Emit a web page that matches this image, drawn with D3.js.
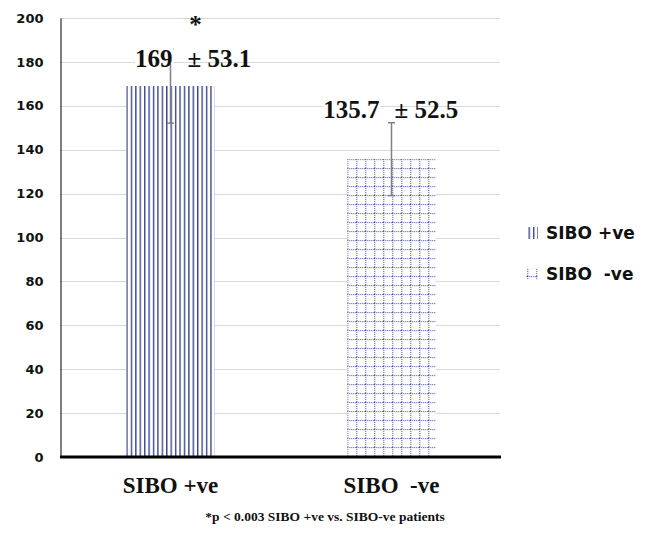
<!DOCTYPE html>
<html>
<head>
<meta charset="utf-8">
<script src="https://cdn.jsdelivr.net/npm/d3@7"></script>
<style>
  html, body { margin: 0; padding: 0; background: #fff; }
  svg { display: block; }
  text { white-space: pre; }
</style>
</head>
<body>
<svg id="chart"></svg>
<script>
const W = 648, H = 536;

// data
const groups = ["SIBO +ve", "SIBO  -ve"];
const means = [169, 135.7];
const sds = [53.1, 52.5];          // printed next to each mean
const errBars = [16.9, 16.6];      // half-length of the drawn error bars
const yTicks = [0, 20, 40, 60, 80, 100, 120, 140, 160, 180, 200];
const legendLabels = ["SIBO +ve", "SIBO  -ve"];
const starText = "*";
const footnote = "*p < 0.003 SIBO +ve vs. SIBO-ve patients";

// label nudges (Excel labels were moved by hand)
const labelDx = [2, -12], labelDy = [-19, -41];

const svg = d3.select("#chart").attr("width", W).attr("height", H);
const defs = svg.append("defs");

const x = d3.scaleBand().domain(groups).range([60, 502])
  .paddingInner(0.6).paddingOuter(0.3);
const y = d3.scaleLinear().domain([0, 200]).range([457, 18]);

const sans = "'DejaVu Sans', sans-serif";
const serif = "'Liberation Serif', 'Times New Roman', serif";

// patterns
const pv = defs.append("pattern").attr("id", "vlines")
  .attr("patternUnits", "userSpaceOnUse")
  .attr("x", x(groups[0])).attr("width", 4.42).attr("height", 10);
pv.append("rect").attr("width", 4.42).attr("height", 10).attr("fill", "#fff");
pv.append("rect").attr("x", 0).attr("width", 1.4).attr("height", 10).attr("fill", "#3b4796");

const pg = defs.append("pattern").attr("id", "grid")
  .attr("patternUnits", "userSpaceOnUse")
  .attr("x", x(groups[1])).attr("y", y(means[1]))
  .attr("width", 9).attr("height", 9);
pg.append("rect").attr("width", 9).attr("height", 9).attr("fill", "#fff");
pg.append("line").attr("x1", 0.5).attr("x2", 0.5).attr("y1", 0).attr("y2", 9)
  .attr("stroke", "#3f4b9e").attr("stroke-width", 1).attr("stroke-dasharray", "1 1");
pg.append("line").attr("x1", 0).attr("x2", 9).attr("y1", 0.5).attr("y2", 0.5)
  .attr("stroke", "#3f4b9e").attr("stroke-width", 1).attr("stroke-dasharray", "1 1");

const fills = ["url(#vlines)", "url(#grid)"];

// gridlines
svg.append("g").selectAll("line").data(yTicks.filter(d => d > 0)).join("line")
  .attr("x1", 60).attr("x2", 500)
  .attr("y1", d => Math.round(y(d)) + 0.5).attr("y2", d => Math.round(y(d)) + 0.5)
  .attr("stroke", "#d9d9d9").attr("stroke-width", 1);

// y axis
const yAx = svg.append("g").attr("transform", "translate(60.5,0)")
  .call(d3.axisLeft(y).tickValues(yTicks).tickSize(0).tickPadding(17));
yAx.select(".domain").attr("stroke", "#000").attr("stroke-width", 1);
yAx.selectAll("text")
  .attr("font-family", sans)
  .attr("font-weight", "bold").attr("font-size", 13).attr("fill", "#111");

// bars
svg.append("g").selectAll("rect").data(groups).join("rect")
  .attr("x", d => x(d)).attr("width", x.bandwidth())
  .attr("y", (d, i) => y(means[i])).attr("height", (d, i) => y(0) - y(means[i]))
  .attr("fill", (d, i) => fills[i]);

// error bars
const eb = svg.append("g").attr("stroke", "#808080").attr("stroke-width", 1.5);
groups.forEach((g, i) => {
  const cx = x(g) + x.bandwidth() / 2;
  eb.append("line").attr("x1", cx).attr("x2", cx)
    .attr("y1", y(means[i] + errBars[i])).attr("y2", y(means[i] - errBars[i]));
  [means[i] + errBars[i], means[i] - errBars[i]].forEach(v => {
    eb.append("line").attr("x1", cx - 3.5).attr("x2", cx + 3.5)
      .attr("y1", y(v)).attr("y2", y(v));
  });
});

// x axis line
svg.append("line").attr("x1", 60).attr("x2", 501)
  .attr("y1", y(0)).attr("y2", y(0))
  .attr("stroke", "#000").attr("stroke-width", 3);

// value labels (mean label box is opaque, as in the original)
groups.forEach((g, i) => {
  const cx = x(g) + x.bandwidth() / 2 + labelDx[i];
  const ly = y(means[i]) + labelDy[i];
  const t = svg.append("text").attr("x", cx).attr("y", ly)
    .attr("text-anchor", "end")
    .attr("font-family", serif).attr("font-weight", "bold").attr("font-size", 25)
    .attr("fill", "#111").text(d3.format(",")(means[i]));
  const bb = t.node().getBBox();
  svg.insert("rect", () => t.node())
    .attr("x", bb.x).attr("y", ly - 21).attr("width", bb.width + 1).attr("height", 18)
    .attr("fill", "#fff");
  svg.append("text").attr("x", cx + 15).attr("y", ly)
    .attr("font-family", serif).attr("font-weight", "bold").attr("font-size", 25)
    .attr("fill", "#111").text("\u00b1 " + sds[i]);
});

// significance star
svg.append("text")
  .attr("x", x(groups[0]) + x.bandwidth() / 2 + 25).attr("y", 33)
  .attr("text-anchor", "middle")
  .attr("font-family", serif).attr("font-weight", "bold").attr("font-size", 25)
  .attr("fill", "#111").text(starText);

// category labels
svg.append("g").selectAll("text").data(groups).join("text")
  .attr("x", d => x(d) + x.bandwidth() / 2).attr("y", 493)
  .attr("text-anchor", "middle")
  .attr("font-family", serif).attr("font-weight", "bold").attr("font-size", 23)
  .attr("fill", "#111").text(d => d);

// legend
const lg = svg.append("g");
legendLabels.forEach((lab, i) => {
  const ly = 239 + i * 41;
  lg.append("rect").attr("x", 526).attr("y", ly - 12).attr("width", 12).attr("height", 12)
    .attr("fill", fills[i]);
  lg.append("text").attr("x", 546).attr("y", ly)
    .attr("font-family", sans)
    .attr("font-weight", "bold").attr("font-size", 17)
    .attr("fill", "#111").text(lab);
});

// footnote
svg.append("text").attr("x", 325).attr("y", 521)
  .attr("text-anchor", "middle")
  .attr("font-family", serif).attr("font-weight", "bold").attr("font-size", 13.5)
  .attr("fill", "#111").text(footnote);
</script>
</body>
</html>
